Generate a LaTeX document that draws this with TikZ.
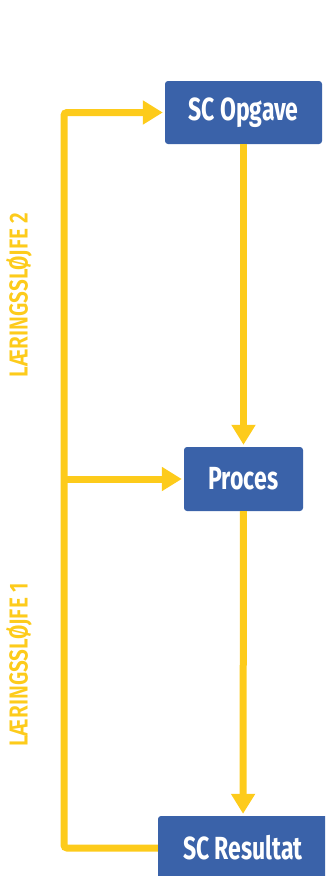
\documentclass[tikz,border=0pt]{standalone}
\usepackage{fontspec}
\setmainfont{Fira Sans}
\newfontfamily\boxfont[FakeStretch=0.72]{Fira Sans}
\newfontfamily\labelfont[FakeStretch=0.8]{Fira Sans SemiBold}
\usetikzlibrary{arrows.meta}
\definecolor{sdblue}{HTML}{3A62A9}
\definecolor{sdyellow}{HTML}{FDCB1B}
\tikzset{
    stepbox/.style={fill=sdblue, rounded corners=3pt, text=white,
        font=\boxfont\bfseries\fontsize{32}{32}\selectfont, inner sep=0pt}, % blue boxes
    loop/.style={draw=sdyellow, line width=7pt,
        -{Triangle[width=23pt,length=20pt]}, shorten >=2pt}, % yellow arrows
    looplabel/.style={text=sdyellow, rotate=90,
        font=\labelfont\fontsize{26}{26}\selectfont, inner sep=0pt},
}

\begin{document}
\begin{tikzpicture}[x=1pt, y=-1pt]
    \useasboundingbox (0,0) rectangle (325,876);
    \clip (0,0) rectangle (325,876);
    \node[stepbox, minimum width=157pt, minimum height=63pt] (opgave) at (243.5,112.5) {SC Opgave};
    \node[stepbox, minimum width=119pt, minimum height=64pt] (proces) at (243.5,479) {Proces};
    \node[stepbox, minimum width=170pt, minimum height=64pt] (resultat) at (243,848) {SC Resultat};
    \coordinate (bend) at (64,0);
    \draw[loop] (opgave) -- (proces);
    \draw[loop] (proces) -- (resultat);
    \draw[loop, rounded corners=3pt] (resultat.west) -- (resultat.west -| bend) |- (opgave.west);
    \draw[loop] (proces.west -| bend) -- (proces.west);
    \node[looplabel] (loop2) at (19,295) {LÆRINGSSLØJFE 2};
    \node[looplabel] (loop1) at (19,665) {LÆRINGSSLØJFE 1};
\end{tikzpicture}
\end{document}
